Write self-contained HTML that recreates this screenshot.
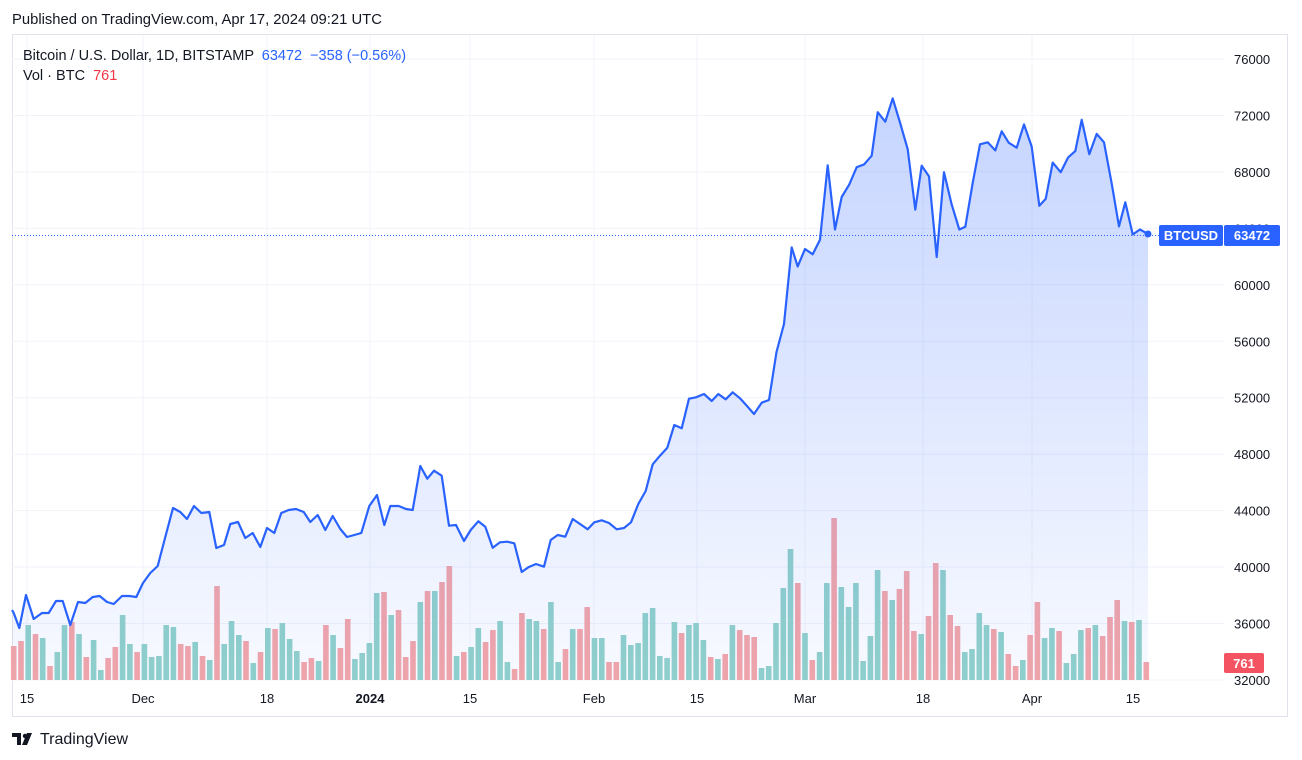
<!DOCTYPE html>
<html><head><meta charset="utf-8"><style>
html,body{margin:0;padding:0;background:#fff;width:1302px;height:760px;overflow:hidden;font-family:"Liberation Sans",Arial,sans-serif;}
svg{position:absolute;left:0;top:0}
</style></head><body>
<svg width="1302" height="760" xmlns="http://www.w3.org/2000/svg" font-family="Liberation Sans, Arial, sans-serif">
<defs>
<linearGradient id="g" gradientUnits="userSpaceOnUse" x1="0" y1="98" x2="0" y2="690">
<stop offset="0" stop-color="#2962ff" stop-opacity="0.27"/>
<stop offset="1" stop-color="#2962ff" stop-opacity="0.03"/>
</linearGradient>
</defs>
<text x="12" y="24" font-size="14.8" fill="#131722">Published on TradingView.com, Apr 17, 2024 09:21 UTC</text>
<rect x="12.5" y="34.5" width="1275" height="682" fill="none" stroke="#e0e3eb"/>
<g id="grid" stroke="#f0f3fa" stroke-width="1"></g>
<g id="vol"></g>
<polygon id="area" fill="url(#g)"/>
<line x1="12" y1="235.5" x2="1225" y2="235.5" stroke="#2962ff" stroke-dasharray="1,2" stroke-width="1"/>
<polyline id="line" fill="none" stroke="#2962ff" stroke-width="2.2" stroke-linejoin="round"/>
<circle cx="1148" cy="234" r="3.5" fill="#2962ff"/>
<g id="plab" font-size="13" fill="#131722"></g>
<g font-size="13" fill="#131722" text-anchor="middle">
<text x="27" y="703">15</text><text x="143" y="703">Dec</text><text x="267" y="703">18</text>
<text x="370" y="703" font-weight="bold">2024</text><text x="470" y="703">15</text><text x="594" y="703">Feb</text>
<text x="697" y="703">15</text><text x="805" y="703">Mar</text><text x="923" y="703">18</text>
<text x="1032" y="703">Apr</text><text x="1133" y="703">15</text>
</g>
<rect x="1159" y="225" width="64" height="21" rx="2" fill="#2962ff"/>
<text x="1191" y="240" font-size="13" font-weight="bold" fill="#fff" text-anchor="middle">BTCUSD</text>
<rect x="1224" y="225" width="56" height="21" rx="2" fill="#2962ff"/>
<text x="1252" y="240" font-size="13" font-weight="bold" fill="#fff" text-anchor="middle">63472</text>
<rect x="1224" y="653" width="40" height="20" rx="2" fill="#f23645" fill-opacity="0.85"/>
<text x="1244" y="668" font-size="13" font-weight="bold" fill="#fff" text-anchor="middle">761</text>
<text x="23" y="60" font-size="14.5" fill="#131722">Bitcoin / U.S. Dollar, 1D, BITSTAMP <tspan fill="#2962ff" dx="4">63472</tspan><tspan fill="#2962ff" dx="8">−358 (−0.56%)</tspan></text>
<text x="23" y="80" font-size="14.5" fill="#131722">Vol · BTC <tspan fill="#f23645" dx="4">761</tspan></text>
<g transform="translate(12,731)">
<path d="M0 2h9v12h-4V6H0z M10 14l5-12h5l-5 12z" fill="#131722"/>
<circle cx="13" cy="5" r="2.2" fill="#131722"/>
</g>
<text x="40" y="744" font-size="16" fill="#131722">TradingView</text>
</svg>
<script>
var ns="http://www.w3.org/2000/svg";
function el(t,a,p){var e=document.createElementNS(ns,t);for(var k in a)e.setAttribute(k,a[k]);document.getElementById(p).appendChild(e);return e;}
var prices=[76000,72000,68000,64000,60000,56000,52000,48000,44000,40000,36000,32000];
prices.forEach(function(p){var y=59+(76000-p)/4000*56.45;el("line",{x1:12,x2:1225,y1:y.toFixed(1),y2:y.toFixed(1)},"grid");
var t=el("text",{x:1234,y:(y+5).toFixed(1)},"plab");t.textContent=p;});
[27,143,267,370,470,594,697,805,923,1032,1133].forEach(function(x){el("line",{x1:x,x2:x,y1:35,y2:680},"grid");});
var H=[34,39,55,46,42,14,28,55,58,46,23,40,10,22,33,65,36,28,36,23,24,55,53,36,34,38,24,20,94,36,59,45,39,17,28,52,51,57,41,29,18,22,19,55,45,32,61,21,27,37,87,88,65,70,23,39,78,89,
89,98,114,24,28,33,52,38,50,59,18,11,67,61,59,51,78,18,31,51,51,73,42,42,18,18,45,35,37,67,72,24,22,58,47,55,57,40,23,21,26,55,50,45,43,12,14,57,
92,131,97,47,20,28,97,162,93,73,97,19,44,110,89,80,91,109,49,46,64,117,110,65,54,28,31,67,55,51,48,26,14,20,45,78,42,52,49,17,26,50,52,55,44,63,80,59,58,60,18];
var C="RRGRGRGGRGRGGRRGGRGGGGGRRGRGRGGGRGRGRGGGRRGRGRRGGGGRGRRRGR"+"GRRGRGGRRGGRRGGRGGRGRRGGRRGGGGGGGGRGGGRGRGRRRGGG"+"GGRGRGGRGGGGGGRGRRRGRRGRRGGGGRGRRGRRGGRGGGRGRRRGRGR";
for(var i=0;i<H.length;i++){var x=13.7+i*7.26;el("rect",{x:(x-2.8).toFixed(1),y:(680-H[i]).toFixed(1),width:5.6,height:H[i],fill:C[i]=="G"?"#92d2ca":"#f5a6a8"},"vol");}
var P=[[12,610],[13.7,613],[19.3,628],[26,595],[33.7,619],[42,613],[48.7,613],[56,601],[62.7,601],[70.3,625],[78,602],[85.3,603],[92.7,597],[99.7,596],[107,602],[113.7,604],[122,596],[129.3,596],[136.3,597],[143,583],[150.3,573],[157.7,566],[165.3,537],[173,508],[180.3,512],[187,519],[194,506],[201.3,513],[209.3,512],[216.3,548],[224,545],[230.3,524],[238,522],[245.3,538],[252.7,533],[260.3,547],[267,528],[274.3,533],[281.3,513],[288.7,510],[296,509],[303.7,512],[310.3,522],[317.7,515],[325.3,530],[332.7,516],[340.3,529],[347,537],[354.3,535],[361.3,533],[369.3,506],[377,495],[384.3,525],[390.3,506],[398.7,506],[406,509],[412.7,510],[420.3,466],[427.3,478.7],[434,470.7],[441.7,475.7],[449,525.7],[456,525],[464,541],[470.7,530],[478.3,521.3],[485.3,526.7],[492.7,547.7],[500,542.3],[507.3,541.7],[514.3,543.3],[521.7,572],[528.3,567.3],[536,564],[544,566.7],[550.7,540],[557.7,535],[565.3,536.7],[572.7,519],[580,524],[587.7,529.3],[594.3,522.3],[601.7,520.3],[609,523],[616.7,529.3],[624,528],[631,522.3],[638.3,504],[645.7,491],[652.7,464.3],[660,455.7],[667.3,447.7],[674.3,425],[681.7,428.3],[689,398.7],[696,397.3],[704,394],[711.7,401],[718.3,394],[725.7,399.3],[732.7,392.3],[740,398.3],[747,406],[754,414],[761.7,402.7],[769,400],[776.5,352],[784,324],[791.7,247.4],[797.7,266.5],[805,249],[812.7,254.3],[820,239.8],[827.7,165.3],[835,229.5],[841.7,197],[849.3,184.4],[856.7,167.2],[864,164.5],[871.7,155.7],[877.7,112.2],[885.3,121.7],[892.7,98.4],[900,122.5],[907.7,149.2],[915.3,209.6],[921.7,165.7],[929,176.4],[936.7,257],[944,172.2],[951.7,204.6],[959.3,229.5],[965.3,226.8],[972.7,182.9],[980,144.3],[987.7,142.3],[995.3,150.4],[1001.7,131.3],[1008.7,142.7],[1016.7,147.7],[1024,124.4],[1031.7,146.6],[1039.3,205.8],[1045.7,198.9],[1052.7,162.6],[1060.7,172.2],[1068,157.6],[1075.3,151.1],[1081.7,119.8],[1089.3,154.2],[1096.7,133.9],[1104,142.3],[1111.7,183.6],[1119,226.4],[1125.3,202.3],[1132.7,234.4],[1140,229.5],[1148,234]];
var s=P.map(function(p){return p[0]+","+p[1];}).join(" ");
document.getElementById("line").setAttribute("points",s);
document.getElementById("area").setAttribute("points","12,680 "+s+" 1148,680");
</script>
</body></html>
